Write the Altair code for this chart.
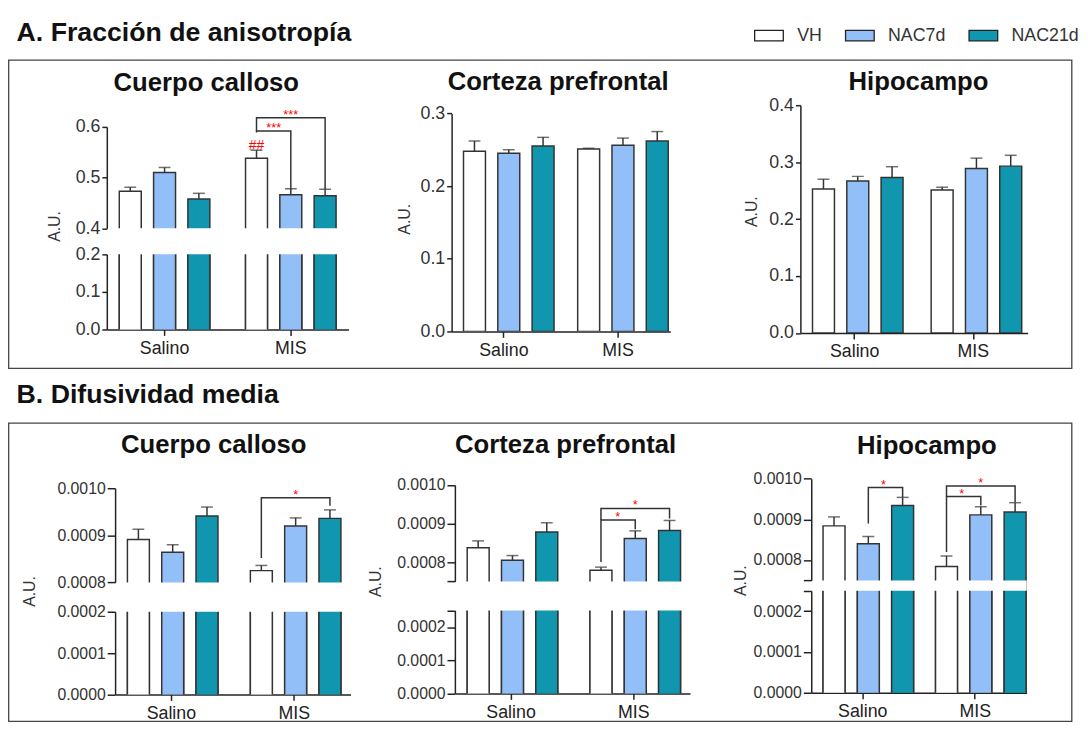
import altair as alt
import pandas as pd

GROUPS = ["Salino", "MIS"]
TREATS = ["VH", "NAC7d", "NAC21d"]
FILLS = ["#FFFFFF", "#92BFF7", "#1097AF"]
FONT = "Liberation Sans"

# A. Fraccion de anisotropia (order: Salino VH, NAC7d, NAC21d, MIS VH, NAC7d, NAC21d)
cc_fa_mean = [0.473, 0.510, 0.458, 0.538, 0.466, 0.464]
cc_fa_sem = [0.008, 0.010, 0.011, 0.016, 0.012, 0.013]
pfc_fa_mean = [0.248, 0.245, 0.255, 0.251, 0.256, 0.262]
pfc_fa_sem = [0.014, 0.005, 0.012, 0.001, 0.010, 0.013]
hip_fa_mean = [0.253, 0.267, 0.273, 0.251, 0.289, 0.293]
hip_fa_sem = [0.017, 0.008, 0.019, 0.005, 0.018, 0.019]

# B. Difusividad media
cc_md_mean = [0.000891, 0.000864, 0.000941, 0.000825, 0.000920, 0.000936]
cc_md_sem = [0.000022, 0.000016, 0.000019, 0.000011, 0.000017, 0.000018]
pfc_md_mean = [0.000837, 0.000805, 0.000878, 0.000779, 0.000861, 0.000882]
pfc_md_sem = [0.000018, 0.000012, 0.000024, 0.000008, 0.000020, 0.000026]
hip_md_mean = [0.000884, 0.000840, 0.000934, 0.000784, 0.000911, 0.000918]
hip_md_sem = [0.000022, 0.000018, 0.000020, 0.000026, 0.000020, 0.000023]

# significance brackets: (grupo, desde, hasta, y_izq, y_sup, y_der, etiqueta)
cc_fa_brackets = [("MIS", "VH", "NAC7d", 0.589, 0.592, 0.477, "***"),
                  ("MIS", "VH", "NAC21d", 0.592, 0.618, 0.477, "***")]
cc_fa_hash = [("MIS", "VH", 0.5545, "##")]
cc_md_brackets = [("MIS", "VH", "NAC21d", 0.000852, 0.000980, 0.000963, "*")]
pfc_md_brackets = [("MIS", "VH", "NAC7d", 0.000800, 0.000909, 0.000885, "*"),
                   ("MIS", "VH", "NAC21d", 0.000909, 0.000939, 0.000913, "*")]
hip_md_brackets = [("Salino", "NAC7d", "NAC21d", 0.000890, 0.000978, 0.000955, "*"),
                   ("MIS", "VH", "NAC7d", 0.000820, 0.000956, 0.000934, "*"),
                   ("MIS", "VH", "NAC21d", 0.000956, 0.000982, 0.000942, "*")]

PAD_G_IN, PAD_G_OUT = 0.185, 0.05
PAD_T_IN, PAD_T_OUT = 0.36, 0.18

LEGEND = alt.Legend(title=None, orient="none", legendX=654.7, legendY=-86.2,
                    direction="horizontal", symbolType="M-1,-0.37H1V0.37H-1Z",
                    symbolSize=841, symbolStrokeColor="#222", symbolStrokeWidth=1.3,
                    symbolOpacity=1, labelFontSize=18, labelFont=FONT, labelColor="#333",
                    labelOffset=13, columnPadding=20, padding=0)
COLOR = alt.Color("trat:N", scale=alt.Scale(domain=TREATS, range=FILLS), legend=LEGEND)
XOFF = alt.XOffset("trat:N", scale=alt.Scale(domain=TREATS, paddingInner=PAD_T_IN,
                                              paddingOuter=PAD_T_OUT))
X_AXIS = alt.Axis(title=None, labelAngle=0, labelFontSize=18, labelColor="#222", tickSize=6,
                  labelPadding=4, labelFont=FONT)
one = pd.DataFrame({"k": [0]})


def bar_table(means, sems):
    return pd.DataFrame({
        "grupo": [g for g in GROUPS for _ in TREATS],
        "trat": TREATS * 2,
        "media": means,
        "tope": [m + s for m, s in zip(means, sems)],
    })


def bracket_tables(brackets):
    lines, texts = [], []
    for i, (g, a, b, yl, yt, yr, lab) in enumerate(brackets):
        for seq, (t, y) in enumerate([(a, yl), (a, yt), (b, yt), (b, yr)]):
            lines.append({"bid": i, "seq": seq, "grupo": g, "trat": t, "yb": y})
        ia, ib = TREATS.index(a), TREATS.index(b)
        span = ib - ia
        texts.append({"grupo": g, "trat": TREATS[ia + span // 2], "yb": yt,
                      "lab": lab, "half": span % 2})
    return pd.DataFrame(lines), pd.DataFrame(texts)


def pitch_of(rng):
    r = rng[1] - rng[0]
    step = r / (2 - PAD_G_IN + 2 * PAD_G_OUT)
    band = step * (1 - PAD_G_IN)
    return band / (3 - PAD_T_IN + 2 * PAD_T_OUT)


def yaxis(values, fmt, tick, lsize, title=None, tx=0, ty=0, offset=0, hide=None):
    kw = dict(values=values, format=fmt, tickSize=tick, labelFontSize=lsize, labelPadding=2,
              labelColor="#333", labelFont=FONT, offset=offset, orient="left")
    if hide is not None:
        kw["labelExpr"] = hide
    if title:
        kw.update(title=title, titleX=tx, titleY=ty, titleFontSize=16, titleFont=FONT,
                  titleFontWeight="normal", titleColor="#333")
    else:
        kw["title"] = None
    return alt.Axis(**kw)


def data_layers(means, sems, yscale, yaxis_, rng, full=True, brackets=None, hashes=None):
    """Bars (and optionally error bars, brackets) drawn on one y scale."""
    bars = bar_table(means, sems)
    xe = alt.X("grupo:N", scale=alt.Scale(domain=GROUPS, range=rng, paddingInner=PAD_G_IN,
                                          paddingOuter=PAD_G_OUT), axis=X_AXIS)

    def Y(field):
        return alt.Y(f"{field}:Q", scale=yscale, axis=yaxis_)

    layers = [alt.Chart(bars).mark_bar(stroke="#333", strokeWidth=1.5, clip=True).encode(
        x=xe, xOffset=XOFF, y=Y("media"), y2=alt.datum(0), color=COLOR)]
    if full:
        layers.append(alt.Chart(bars).mark_rule(color="#333", strokeWidth=1.5).encode(
            x=xe, xOffset=XOFF, y=Y("media"), y2="tope:Q"))
        layers.append(alt.Chart(bars).mark_tick(color="#333", thickness=1.5, size=12).encode(
            x=xe, xOffset=XOFF, y=Y("tope")))
    if brackets:
        ldf, tdf = bracket_tables(brackets)
        layers.append(alt.Chart(ldf).mark_line(color="#333", strokeWidth=1.5).encode(
            x=xe, xOffset=XOFF, y=Y("yb"), detail="bid:N", order="seq:Q"))
        half = pitch_of(rng) / 2
        for flag, dx in [(0, 0), (1, half)]:
            sub = tdf[tdf["half"] == flag]
            if len(sub):
                layers.append(alt.Chart(sub).mark_text(
                    color="#FF0000", fontSize=13, font=FONT, baseline="middle", dy=-3, dx=dx
                ).encode(x=xe, xOffset=XOFF, y=Y("yb"), text="lab:N"))
    if hashes:
        hdf = pd.DataFrame([{"grupo": g, "trat": t, "yb": y, "lab": lab}
                            for g, t, y, lab in hashes])
        layers.append(alt.Chart(hdf).mark_text(
            color="#FF0000", fontSize=14, font=FONT, baseline="alphabetic"
        ).encode(x=xe, xOffset=XOFF, y=Y("yb"), text="lab:N"))
    return alt.layer(*layers)


def mask(x, x2, y, y2):
    return alt.Chart(one).mark_rect(fill="white", strokeWidth=0).encode(
        x=alt.value(x), x2=alt.value(x2), y=alt.value(y), y2=alt.value(y2))


def box(x, x2, y, y2):
    return alt.Chart(one).mark_rect(fill="transparent", stroke="#444", strokeWidth=1.3).encode(
        x=alt.value(x), x2=alt.value(x2), y=alt.value(y), y2=alt.value(y2))


def section(text, x, y):
    return alt.Chart(one).mark_text(text=text, align="left", baseline="alphabetic", fontSize=27,
                                    fontWeight="bold", font=FONT, color="#111").encode(
        x=alt.value(x), y=alt.value(y))


def ptitle(text, dx, dy):
    return alt.Title(text, fontSize=26, fontWeight="bold", font=FONT, color="#111",
                     anchor="middle", frame="group", dx=dx, dy=dy, offset=0)


def broken(means, sems, width, height, rng, up_scale, up_axis, lo_scale, lo_axis,
           gap, brackets=None, hashes=None, title=None, extra=()):
    lo = data_layers(means, sems, lo_scale, lo_axis, rng, False)
    up = data_layers(means, sems, up_scale, up_axis, rng, True, brackets, hashes)
    parts = [lo, up, mask(rng[0] + 1.2, rng[1], gap[0], gap[1])] + list(extra)
    ch = alt.layer(*parts).resolve_scale(y="independent").properties(width=width,
                                                                        height=height)
    return ch.properties(title=title) if title else ch


def simple(means, sems, width, height, rng, scale, axis, title):
    return data_layers(means, sems, scale, axis, rng, True).properties(
        width=width, height=height, title=title)


# Column widths include the gap up to the next panel (grid column spacing = 0)
W1, W2, W3 = 348.4, 352.3, 230

# ---------------- Row A (top at y=101.7) ----------------
A1 = broken(cc_fa_mean, cc_fa_sem, W1, 227, [0, 244.7],
            alt.Scale(domain=[0.4, 0.6], range=[124.6, 22], nice=False, zero=False),
            yaxis([0.4, 0.5, 0.6], ".1f", 5, 18, "A.U.", -45.3, 122.3),
            alt.Scale(domain=[0, 0.2], range=[227, 151], nice=False, clamp=True),
            yaxis([0, 0.1, 0.2], ".1f", 5, 18),
            (124.6, 151), brackets=cc_fa_brackets, hashes=cc_fa_hash,
            title=ptitle("Cuerpo calloso", -73.5, 77),
            extra=[box(-99.3, 976.7, -45.7, 266.3),
                   section("A. Fracción de anisotropía", -91.3, -64.7)])

A2 = simple(pfc_fa_mean, pfc_fa_sem, W2, 229, [0, 221.3],
            alt.Scale(domain=[0, 0.3], range=[229, 8.3], nice=False),
            yaxis([0, 0.1, 0.2, 0.3], ".1f", 5, 18, "A.U.", -39.7, 115),
            ptitle("Corteza prefrontal", -68.3, -10))

A3 = simple(hip_fa_mean, hip_fa_sem, W3, 230.6, [0, 230],
            alt.Scale(domain=[0, 0.4], nice=False),
            yaxis([0, 0.1, 0.2, 0.3, 0.4], ".1f", 5, 18, "A.U.", -41, 107.3),
            ptitle("Hipocampo", 4.5, -1))

# ---------------- Row B (top at y=470) ----------------
HIDE_LOW_UP = "datum.value < 0.00079 ? '' : format(datum.value, '.4f')"
HIDE_HIGH_LOW = "datum.value > 0.00021 ? '' : format(datum.value, '.4f')"

B1 = broken(cc_md_mean, cc_md_sem, W1, 227.7, [8.4, 246.7],
            alt.Scale(domain=[0.0008, 0.001], range=[114.3, 19], nice=False, zero=False),
            yaxis([0.0008, 0.0009, 0.001], ".4f", 8, 16, "A.U.", -78.7, 123, offset=-8.4),
            alt.Scale(domain=[0, 0.0002], range=[227.7, 144], nice=False, clamp=True),
            yaxis([0, 0.0001, 0.0002], ".4f", 8, 16, offset=-8.4),
            (114.3, 144), brackets=cc_md_brackets,
            title=ptitle("Cuerpo calloso", -66, 77),
            extra=[box(-99.3, 976.7, -47, 255),
                   section("B. Difusividad media", -91.3, -67)])

B2 = broken(pfc_md_mean, pfc_md_sem, W2, 226.7, [3.3, 241.3],
            alt.Scale(domain=[0.00075, 0.001], range=[113.3, 15.7], nice=False, zero=False),
            yaxis([0.00075, 0.0008, 0.0009, 0.001], ".4f", 8, 16, "A.U.", -72, 113,
                  offset=-3.3, hide=HIDE_LOW_UP),
            alt.Scale(domain=[0, 0.00025], range=[226.7, 142.7], nice=False, clamp=True),
            yaxis([0, 0.0001, 0.0002, 0.00025], ".4f", 8, 16, offset=-3.3, hide=HIDE_HIGH_LOW),
            (113.3, 142.7), brackets=pfc_md_brackets,
            title=ptitle("Corteza prefrontal", -60.8, -12))

B3 = broken(hip_md_mean, hip_md_sem, W3, 226, [11, 229],
            alt.Scale(domain=[0.00075, 0.001], range=[112.3, 9.3], nice=False, zero=False),
            yaxis([0.00075, 0.0008, 0.0009, 0.001], ".4f", 8, 16, "A.U.", -64, 112,
                  offset=-11, hide=HIDE_LOW_UP),
            alt.Scale(domain=[0, 0.00025], range=[226, 122.7], nice=False, clamp=True),
            yaxis([0, 0.0001, 0.0002, 0.00025], ".4f", 8, 16, offset=-11, hide=HIDE_HIGH_LOW),
            (112.3, 122.7), brackets=hip_md_brackets,
            title=ptitle("Hipocampo", 13, -11))

chart = alt.concat(A1, A2, A3, B1, B2, B3, columns=3,
                   spacing={"row": 137.7, "column": 0}, bounds="flush", align="each").properties(
    padding={"left": 0, "top": 7, "right": 0, "bottom": 0}
).configure_view(strokeWidth=0).configure_axis(
    domainColor="#222", domainWidth=1.5, tickColor="#222", tickWidth=1.5, grid=False
)

chart.save("out.html", embed_options={"renderer": "svg", "actions": False})
